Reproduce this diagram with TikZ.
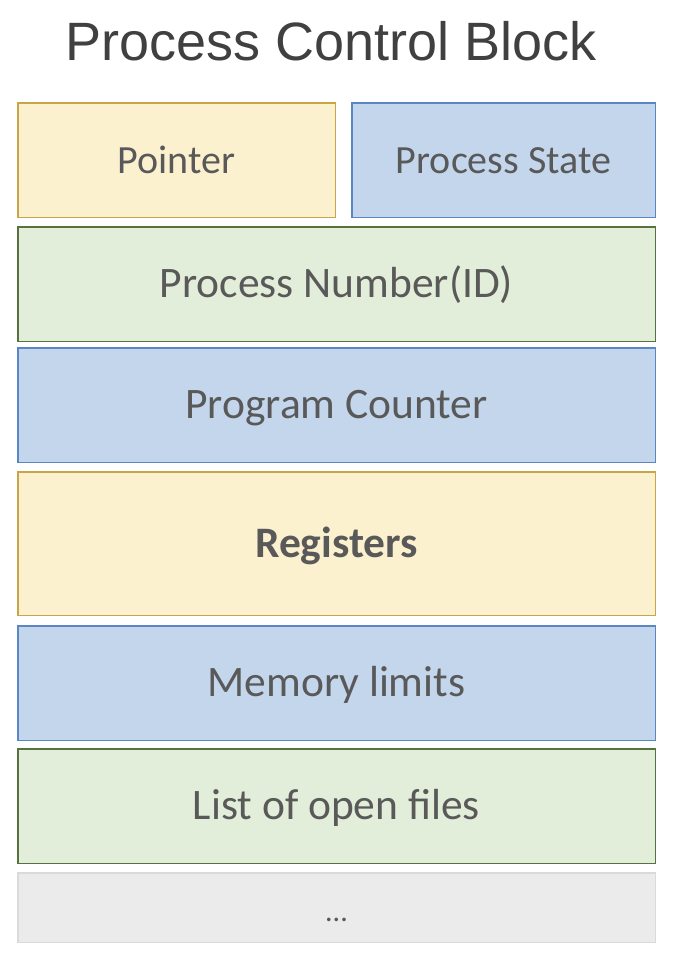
\documentclass[tikz,border=0pt]{standalone}
\usepackage{fontspec}
\setmainfont{Carlito}
\newfontfamily\headfont{Liberation Sans}
\usetikzlibrary{positioning}
\definecolor{pcbyellow}{HTML}{FCF1CF}
\definecolor{pcbyellowline}{HTML}{C8A548}
\definecolor{pcbblue}{HTML}{C3D6EC}
\definecolor{pcbblueline}{HTML}{5B86C4}
\definecolor{pcbgreen}{HTML}{E2EED9}
\definecolor{pcbgreenline}{HTML}{56733F}
\definecolor{pcbgray}{HTML}{EBEBEB}
\definecolor{pcbgrayline}{HTML}{DADADA}
\definecolor{pcbtext}{HTML}{595959}
\definecolor{pcbtitle}{HTML}{404040}

\begin{document}
\begin{tikzpicture}[
    x=1pt, y=-1pt,
    every node/.style={text=pcbtext, inner sep=0pt, text height=27pt, text depth=0pt, font=\fontsize{43.5}{52}\selectfont},
    field/.style={draw, line width=1.5pt, minimum height=114.5pt},
    wide/.style={field, minimum width=637.5pt},
    yellowbox/.style={fill=pcbyellow, draw=pcbyellowline},
    bluebox/.style={fill=pcbblue, draw=pcbblueline},
    greenbox/.style={fill=pcbgreen, draw=pcbgreenline},
    graybox/.style={fill=pcbgray, draw=pcbgrayline}
  ]
    \useasboundingbox (0,0) rectangle (686,964);

    % Title
    \node[font=\headfont\fontsize{54}{60}\selectfont, text=pcbtitle, anchor=base] (title) at (331.5,60) {Process Control Block};

    % Top row
    \node[field, yellowbox, minimum width=317.5pt, anchor=north west, font=\fontsize{40}{48}\selectfont] (pointer) at (17,102) {Pointer};
    \node[field, bluebox, minimum width=303.5pt, right=15pt of pointer, font=\fontsize{40}{48}\selectfont] (state) {Process State};

    % Full width fields
    \node[wide, greenbox, anchor=north] (pid) at (336.5,226) {Process Number(ID)};
    \node[wide, bluebox, below=5pt of pid] (pc) {Program Counter};
    \node[wide, yellowbox, minimum height=143.5pt, below=8pt of pc, font=\fontsize{43.5}{52}\selectfont\bfseries] (regs) {Registers};
    \node[wide, bluebox, below=9pt of regs] (mem) {Memory limits};
    \node[wide, greenbox, below=7pt of mem] (files) {List of open files};
    \node[wide, graybox, minimum height=69.5pt, below=8pt of files, font=\fontsize{30}{36}\selectfont] (more) {...};
  \end{tikzpicture}
\end{document}
